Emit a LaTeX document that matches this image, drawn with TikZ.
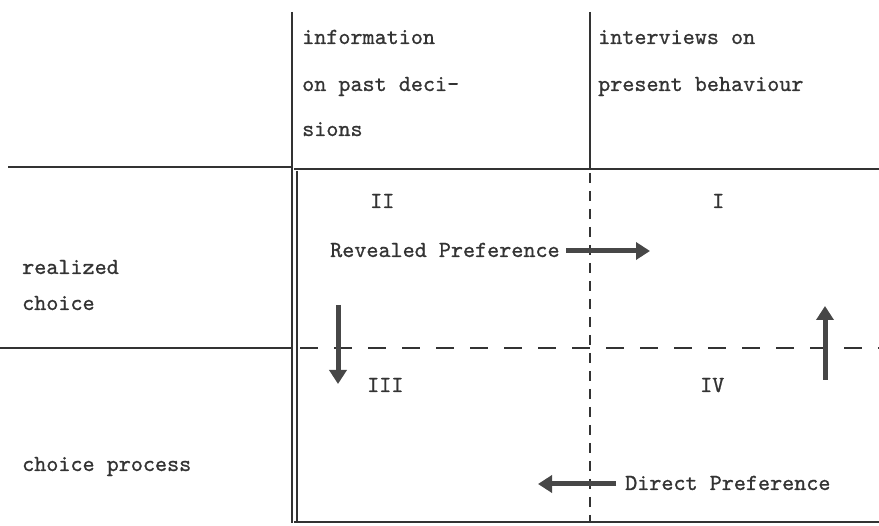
\documentclass[tikz,border=0pt]{standalone}
\usepackage{fontspec}
\newfontfamily\typewriter{lmmono10-regular.otf}[FakeBold=0.9]
\usetikzlibrary{arrows.meta}
\definecolor{ink}{gray}{0.2}
\definecolor{arrowink}{gray}{0.28}
\begin{document}
\begin{tikzpicture}[x=1pt,y=-1pt,
  lbl/.style={anchor=base west,inner sep=0pt,text=ink,font=\typewriter\fontsize{23}{27}\selectfont},
  rule/.style={draw=ink,line width=1.5pt},
  boxedge/.style={draw=ink,line width=2.6pt},
  dashh/.style={draw=ink,line width=1.5pt,dash pattern=on 18pt off 16pt},
  dashv/.style={draw=ink,line width=1.5pt,dash pattern=on 10pt off 8pt},
  flow/.style={draw=arrowink,line width=5pt,-{Triangle[length=14pt,width=17pt]}}]
\useasboundingbox (0,0) rectangle (879,526);

% frame coordinates
\coordinate (tl) at (292,12);
\coordinate (tm) at (590,12);
\coordinate (bl) at (294,522);
\coordinate (br) at (879,522);
\coordinate (ml) at (8,167);
\coordinate (mc) at (294,169);
\coordinate (mr) at (879,169);
\coordinate (lrow) at (0,348);
\coordinate (lrowe) at (292,348);
\coordinate (drow) at (300,348);
\coordinate (drowe) at (879,348);
\coordinate (cm) at (590,169);
\coordinate (cb) at (590,522);

% header rules
\draw[rule] (tl) -- (292,169);
\draw[rule] (tm) -- (cm);
\draw[rule] (ml) -- (292,167);
\draw[rule] (lrow) -- (lrowe);

% main box: thick top and bottom, double left edge
\draw[boxedge] (mc) -- (mr);
\draw[boxedge] (bl) -- (br);
\draw[draw=ink,line width=1.3pt] (292,169) -- (292,523);
\draw[draw=ink,line width=1.3pt] (297,171) -- (297,523);

% dashed quadrant dividers
\draw[dashh] (drow) -- (drowe);
\draw[dashv] (590,173) -- (cb);

% column headings
\node[lbl] (h1a) at (302,44) {information};
\node[lbl] (h1b) at (302,91) {on past deci-};
\node[lbl] (h1c) at (302,136) {sions};
\node[lbl] (h2a) at (598,44) {interviews on};
\node[lbl] (h2b) at (598,91) {present behaviour};

% row headings
\node[lbl] (r1a) at (22,274) {realized};
\node[lbl] (r1b) at (22,310) {choice};
\node[lbl] (r2) at (22,471) {choice process};

% quadrant numbers
\node[lbl] (q2) at (370,208) {II};
\node[lbl] (q1) at (712,208) {I};
\node[lbl] (q3) at (367,392) {III};
\node[lbl] (q4) at (700,392) {IV};

% method labels
\node[lbl] (rp) at (330,257) {Revealed Preference};
\node[lbl] (dp) at (625,490) {Direct Preference};

% shift arrows
\coordinate (rpA) at (566,251);
\coordinate (rpB) at (650,251);
\draw[flow] (rpA) -- (rpB);
\coordinate (dpA) at (616,484);
\coordinate (dpB) at (538,484);
\draw[flow] (dpA) -- (dpB);
\coordinate (dnA) at (338,305);
\coordinate (dnB) at (338,384);
\draw[flow] (dnA) -- (dnB);
\coordinate (upA) at (825,380);
\coordinate (upB) at (825,306);
\draw[flow] (upA) -- (upB);
\end{tikzpicture}
\end{document}
